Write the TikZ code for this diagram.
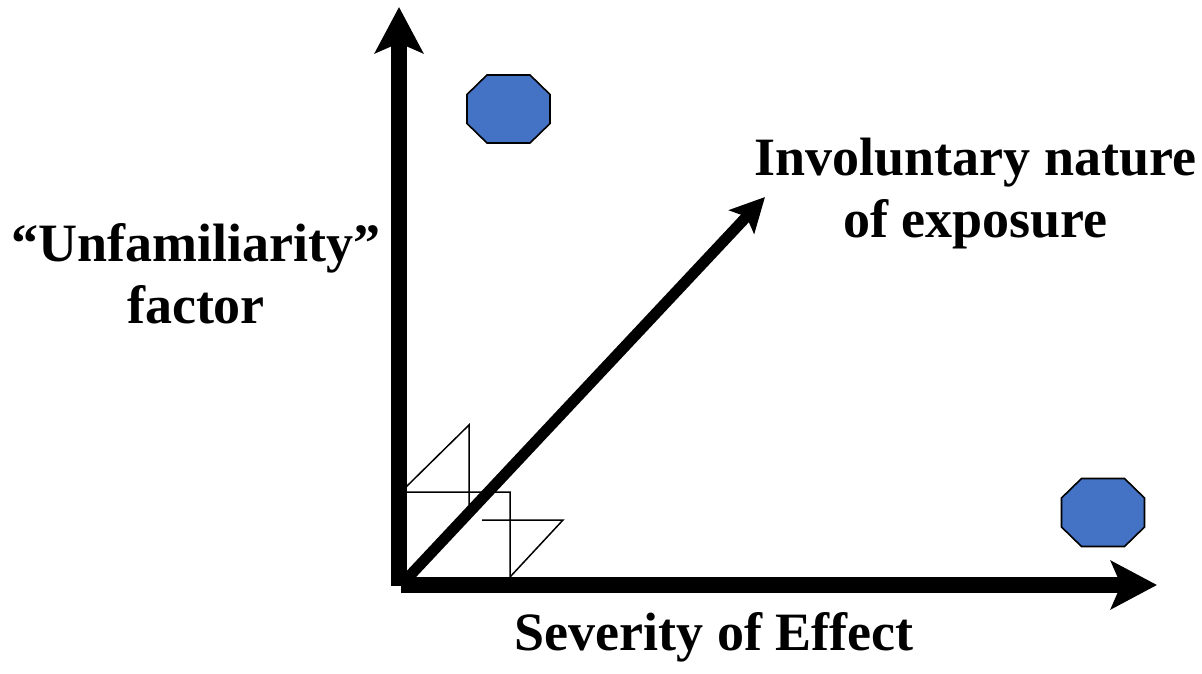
\documentclass[tikz,border=0pt]{standalone}
\usepackage{fontspec}
\setmainfont{Liberation Serif}
\usetikzlibrary{arrows.meta}
\definecolor{BlobBlue}{HTML}{4472C4}

\begin{document}
\begin{tikzpicture}[x=1pt, y=-1pt,
    axis/.style={-{Stealth[length=46pt, width=48pt, inset=10pt]}, line width=16pt},
    diag/.style={-{Stealth[length=34pt, width=34pt, inset=7pt]}, line width=11pt},
    thin/.style={line width=1.5pt},
    blob/.style={fill=BlobBlue, draw=black, line width=1.6pt, line join=miter},
    lbl/.style={font=\fontsize{54}{62}\selectfont\bfseries, align=center, inner sep=0pt},
  ]
  \useasboundingbox (0,0) rectangle (1202,674);
  \coordinate (O) at (399,586);
  \coordinate (ytip) at (399,7);
  \coordinate (xstart) at (401,585);
  \coordinate (xtip) at (1157,585);
  \coordinate (dstart) at (402,584);
  \coordinate (dtip) at (765,197);

  % small sketch at the corner
  \draw[thin] (406,487) -- (469,425) -- (469,508);
  \draw[thin] (406,492) -| (510,577) -- (563,520) -- (482,520);

  \draw[diag] (dstart) -- (dtip);
  \draw[axis] (O) -- (ytip);
  \draw[axis] (xstart) -- (xtip);

  % the two markers
  \foreach \cx/\cy in {508.5/109, 1103/512.5}{
    \draw[blob] (\cx-21.5,\cy-34) -- (\cx+21.5,\cy-34) -- (\cx+41.5,\cy-14.5)
      -- (\cx+41.5,\cy+14.5) -- (\cx+21.5,\cy+34) -- (\cx-21.5,\cy+34)
      -- (\cx-41.5,\cy+14.5) -- (\cx-41.5,\cy-14.5) -- cycle;
  }

  \node[lbl, anchor=north] (zlab) at (975.5,138) {Involuntary nature\\of exposure};
  \node[lbl, anchor=north] (ylab) at (196,223) {“Unfamiliarity”\\factor};
  \node[lbl, anchor=base] (xlab) at (714,650) {Severity of Effect};
\end{tikzpicture}
\end{document}
